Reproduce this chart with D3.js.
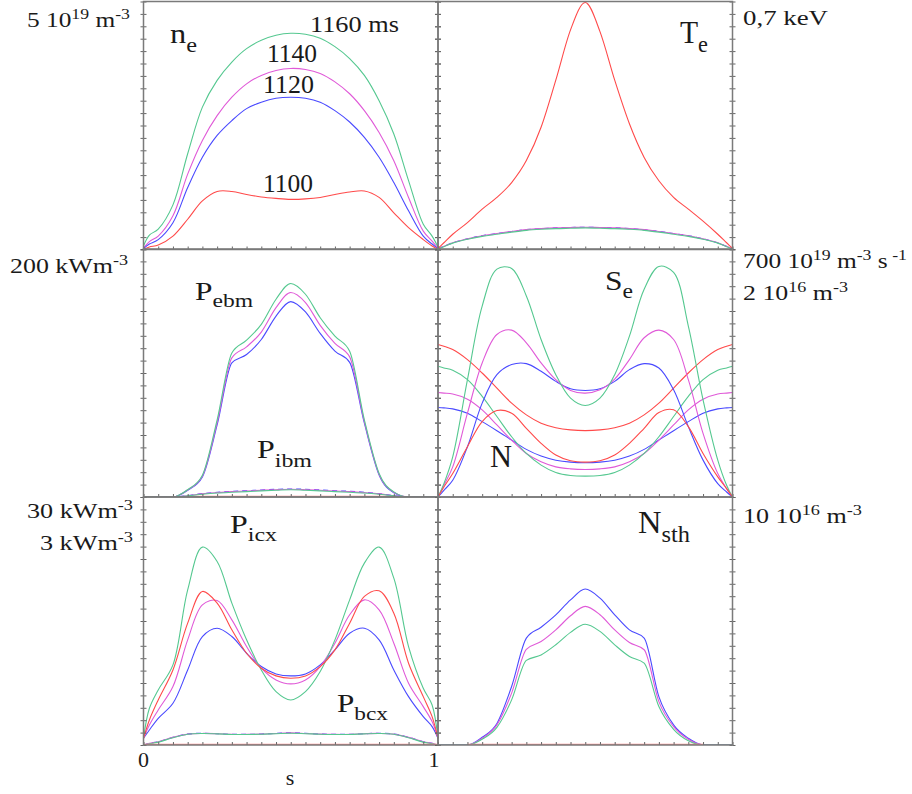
<!DOCTYPE html>
<html>
<head>
<meta charset="utf-8">
<script src="https://cdn.jsdelivr.net/npm/d3@7"></script>
<style>
body { margin: 0; background: #fff; }
text { font-family: "Liberation Serif", "DejaVu Serif", "Noto Serif", serif; fill: #1a1a1a; }
</style>
</head>
<body>
<div id="chart"></div>
<script>
// normalised radius s, same grid for every profile
const sGrid = [0, 0.02, 0.05, 0.1, 0.15, 0.2, 0.25, 0.3, 0.35, 0.4, 0.45, 0.5, 0.55, 0.6, 0.65, 0.7, 0.75, 0.8, 0.85, 0.9, 0.95, 0.98, 1];
const times = ["1100", "1120", "1140", "1160"];

// n_e, 10^19 m^-3
const neRed     = [0, 0.05, 0.09, 0.27, 0.61, 0.98, 1.17, 1.17, 1.11, 1.06, 1.03, 1.01, 1.02, 1.05, 1.11, 1.16, 1.18, 1.05, 0.74, 0.44, 0.2, 0.07, 0];
const neBlue    = [0.02, 0.11, 0.2, 0.54, 1.25, 1.86, 2.3, 2.6, 2.84, 2.97, 3.05, 3.07, 3.05, 2.97, 2.8, 2.57, 2.26, 1.86, 1.35, 0.78, 0.27, 0.11, 0.02];
const neMagenta = [0.03, 0.16, 0.27, 0.68, 1.52, 2.2, 2.7, 3.07, 3.34, 3.51, 3.61, 3.65, 3.63, 3.55, 3.38, 3.14, 2.8, 2.36, 1.79, 1.05, 0.37, 0.17, 0.03];
const neGreen   = [0.07, 0.29, 0.41, 0.9, 1.93, 2.87, 3.41, 3.78, 4.05, 4.22, 4.32, 4.36, 4.34, 4.26, 4.09, 3.85, 3.51, 3.0, 2.33, 1.39, 0.51, 0.27, 0.05];

// T_e, keV
const teRed     = [0.003, 0.019, 0.043, 0.076, 0.114, 0.147, 0.189, 0.251, 0.345, 0.478, 0.62, 0.697, 0.615, 0.478, 0.355, 0.26, 0.194, 0.147, 0.114, 0.08, 0.043, 0.019, 0.003];
const teBlue    = [0.003, 0.009, 0.019, 0.03, 0.039, 0.045, 0.051, 0.056, 0.059, 0.061, 0.062, 0.063, 0.062, 0.061, 0.059, 0.056, 0.051, 0.045, 0.039, 0.03, 0.019, 0.009, 0.003];
const teMagenta = [0.003, 0.009, 0.019, 0.03, 0.039, 0.045, 0.051, 0.056, 0.059, 0.061, 0.062, 0.063, 0.062, 0.061, 0.059, 0.056, 0.051, 0.045, 0.039, 0.03, 0.019, 0.009, 0.003];
const teGreen   = [0.002, 0.008, 0.018, 0.029, 0.037, 0.043, 0.049, 0.054, 0.057, 0.059, 0.06, 0.061, 0.06, 0.059, 0.057, 0.054, 0.049, 0.043, 0.037, 0.029, 0.018, 0.008, 0.002];

// P_ebm and P_ibm, kW m^-3
const pebmRed     = [null, null, null, null, 0, 0, 0, 0, 0, 0, 0, 0, 0, 0, 0, 0, 0, 0, 0, null, null, null, null];
const pebmBlue    = [0, 0, 0, 0, 5.4, 16.2, 58.1, 108.1, 114.9, 127.0, 145.9, 157.6, 149.2, 131.9, 117.6, 108.6, 59.5, 17.8, 3.5, 0, 0, 0, 0];
const pebmMagenta = [0, 0, 0, 0, 5.7, 17.0, 60.0, 112.2, 121.1, 133.0, 152.7, 164.9, 156.8, 138.4, 123.8, 113.0, 60.8, 18.4, 3.8, 0, 0, 0, 0];
const pebmGreen   = [0, 0, 0, 0, 5.9, 17.6, 62.2, 116.2, 126.5, 139.2, 159.5, 172.2, 163.5, 144.6, 129.7, 117.6, 62.2, 18.9, 4.1, 0, 0, 0, 0];
const pibmBlue    = [0, 0, 0, 0, 1.1, 2.7, 3.8, 4.6, 5.1, 5.7, 6.2, 6.5, 6.2, 5.7, 5.1, 4.6, 3.8, 2.7, 1.1, 0, 0, 0, 0];
const pibmMagenta = [0, 0, 0, 0, 1.0, 2.5, 3.5, 4.3, 4.8, 5.4, 5.9, 6.2, 5.9, 5.4, 4.8, 4.3, 3.5, 2.5, 1.0, 0, 0, 0, 0];
const pibmGreen   = [0, 0, 0, 0, 0.9, 2.2, 3.2, 3.8, 4.3, 4.9, 5.4, 5.9, 5.4, 4.9, 4.3, 3.8, 3.2, 2.2, 0.9, 0, 0, 0, 0];

// S_e, 10^19 m^-3 s^-1
const seRed     = [0, 28.4, 66.2, 141.9, 212.9, 244.1, 236.5, 193.9, 151.4, 118.3, 102.2, 98.4, 102.2, 118.3, 151.4, 193.9, 238.4, 246.0, 198.7, 122.9, 56.8, 23.7, 0];
const seBlue    = [0, 18.9, 47.3, 141.9, 264.9, 345.3, 373.7, 376.5, 354.8, 326.4, 305.6, 300.8, 305.6, 326.4, 359.5, 376.5, 364.2, 302.7, 198.7, 104.1, 37.8, 14.2, 0];
const seMagenta = [0, 33.1, 85.1, 236.5, 378.4, 458.8, 471.1, 435.2, 378.4, 331.1, 300.8, 293.3, 302.7, 333.0, 387.9, 449.4, 471.1, 444.6, 331.1, 179.7, 66.2, 23.7, 0];
const seGreen   = [0, 37.8, 113.5, 331.1, 539.0, 643.3, 645.2, 567.6, 444.6, 345.3, 279.1, 258.3, 279.1, 345.3, 454.1, 586.5, 650.8, 633.8, 482.5, 274.3, 104.1, 33.1, 0];

// N, 10^16 m^-3
const nRed     = [1.23, 1.216, 1.189, 1.108, 1.0, 0.878, 0.757, 0.662, 0.595, 0.559, 0.541, 0.535, 0.541, 0.559, 0.595, 0.662, 0.757, 0.878, 1.0, 1.108, 1.189, 1.216, 1.23];
const nBlue    = [0.722, 0.719, 0.711, 0.676, 0.608, 0.535, 0.459, 0.384, 0.33, 0.297, 0.281, 0.276, 0.281, 0.297, 0.33, 0.384, 0.459, 0.535, 0.608, 0.676, 0.711, 0.719, 0.722];
const nMagenta = [0.843, 0.838, 0.83, 0.789, 0.703, 0.581, 0.459, 0.351, 0.284, 0.243, 0.227, 0.222, 0.227, 0.243, 0.284, 0.351, 0.459, 0.581, 0.703, 0.789, 0.83, 0.838, 0.843];
const nGreen   = [1.054, 1.041, 1.022, 0.946, 0.811, 0.649, 0.486, 0.351, 0.257, 0.197, 0.173, 0.168, 0.173, 0.197, 0.257, 0.351, 0.486, 0.649, 0.811, 0.946, 1.022, 1.041, 1.054];

// P_icx (30 kW m^-3 scale) and P_bcx (3 kW m^-3 scale)
const picxRed     = [0.81, 3.03, 5.45, 9.08, 14.74, 18.57, 17.16, 13.93, 11.1, 9.29, 8.36, 8.07, 8.36, 9.49, 11.51, 14.74, 17.97, 18.65, 15.95, 9.89, 5.85, 3.43, 0.81];
const picxBlue    = [0.81, 1.82, 3.23, 5.05, 9.08, 13.12, 14.13, 13.12, 11.1, 9.49, 8.6, 8.36, 8.6, 9.69, 11.51, 13.52, 14.13, 12.72, 9.08, 5.85, 3.43, 2.22, 0.81];
const picxMagenta = [0.81, 2.42, 4.24, 7.07, 12.72, 16.96, 17.48, 15.14, 11.91, 9.29, 7.87, 7.39, 7.87, 9.49, 12.31, 15.75, 17.56, 16.35, 12.31, 7.47, 4.64, 2.83, 0.81];
const picxGreen   = [0.81, 4.44, 6.66, 9.69, 18.77, 23.94, 22.2, 17.16, 12.72, 9.08, 6.46, 5.45, 6.46, 8.88, 12.72, 17.56, 22.0, 23.94, 20.18, 11.91, 6.86, 4.84, 0.81];
const pbcxRed     = [0, 0, 0, 0, 0, 0, 0, 0, 0, 0, 0, 0, 0, 0, 0, 0, 0, 0, 0, 0, 0, 0, 0];
const pbcxBlue    = [0, 0.02, 0.04, 0.093, 0.133, 0.141, 0.137, 0.129, 0.129, 0.133, 0.141, 0.149, 0.141, 0.133, 0.129, 0.129, 0.137, 0.141, 0.133, 0.093, 0.04, 0.02, 0];
const pbcxMagenta = [0, 0.02, 0.04, 0.092, 0.132, 0.14, 0.136, 0.128, 0.128, 0.132, 0.14, 0.147, 0.14, 0.132, 0.128, 0.128, 0.136, 0.14, 0.132, 0.092, 0.04, 0.02, 0];
const pbcxGreen   = [0, 0.015, 0.035, 0.088, 0.13, 0.139, 0.135, 0.127, 0.127, 0.13, 0.137, 0.143, 0.137, 0.13, 0.127, 0.127, 0.135, 0.139, 0.13, 0.088, 0.035, 0.015, 0];

// N_sth, 10^16 m^-3
const nsthRed     = [null, null, null, 0, 0, 0, 0, 0, 0, 0, 0, 0, 0, 0, 0, 0, 0, 0, 0, 0, null, null, null];
const nsthBlue    = [0, 0, 0, 0, 0.31, 0.87, 2.36, 4.31, 4.75, 5.25, 5.85, 6.29, 5.92, 5.25, 4.64, 4.31, 1.95, 0.81, 0.27, 0.01, 0, 0, 0];
const nsthMagenta = [0, 0, 0, 0, 0.27, 0.81, 2.09, 3.86, 4.17, 4.64, 5.21, 5.59, 5.25, 4.64, 4.13, 3.84, 1.75, 0.74, 0.23, 0.01, 0, 0, 0];
const nsthGreen   = [0, 0, 0, 0, 0.23, 0.71, 1.82, 3.41, 3.63, 4.04, 4.54, 4.87, 4.58, 4.04, 3.57, 3.3, 1.55, 0.63, 0.17, 0, 0, 0, 0];

const RED = "#ff4a4a", BLUE = "#4a4aff", MAG = "#e05ad8", GREEN = "#55c890";
const FONT = "Liberation Serif, DejaVu Serif, serif";

const colX = [143.5, 438];
const rowY = [1.5, 249, 497];
const pw = 294.5, ph = 248;

const svg = d3.select("#chart").append("svg")
    .attr("width", 912)
    .attr("height", 794);

const x = d3.scaleLinear().domain([0, 1]).range([0, pw]);

function lines(red, blue, magenta, green, thin) {
    // draw order: blue, magenta, green, red
    return [
        {v: blue, c: BLUE, dash: thin ? "5,4" : null},
        {v: magenta, c: MAG},
        {v: green, c: GREEN},
        {v: red, c: RED}
    ].filter(d => d.v);
}

const smooth = d3.curveCatmullRom.alpha(0.5);
const kinked = d3.curveMonotoneX;

const panels = [
    {col: 0, row: 0, curve: smooth, layers: [{max: 5, lines: lines(neRed, neBlue, neMagenta, neGreen)}]},
    {col: 1, row: 0, curve: kinked, layers: [{max: 0.7, lines: lines(teRed, teBlue, teMagenta, teGreen, true)}]},
    {col: 0, row: 1, curve: kinked, layers: [
        {max: 200, lines: lines(pebmRed, pebmBlue, pebmMagenta, pebmGreen)},
        {max: 200, lines: lines(null, pibmBlue, pibmMagenta, pibmGreen, true)}]},
    {col: 1, row: 1, curve: smooth, layers: [
        {max: 2, lines: lines(nRed, nBlue, nMagenta, nGreen)},
        {max: 700, lines: lines(seRed, seBlue, seMagenta, seGreen)}]},
    {col: 0, row: 2, curve: smooth, layers: [
        {max: 30, lines: lines(null, picxBlue, picxMagenta, picxGreen)},
        {max: 3, lines: lines(null, pbcxBlue, pbcxMagenta, pbcxGreen, true)},
        {max: 30, lines: lines(picxRed, null, null, null)},
        {max: 3, lines: lines(pbcxRed, null, null, null)}]},
    {col: 1, row: 2, curve: kinked, layers: [{max: 10, lines: lines(nsthRed, nsthBlue, nsthMagenta, nsthGreen)}]}
];

const tickVals = d3.range(21).map(i => i / 20);

panels.forEach((p, pi) => {
    const g = svg.append("g")
        .attr("transform", "translate(" + colX[p.col] + "," + rowY[p.row] + ")");

    g.append("clipPath").attr("id", "clip" + pi)
        .append("rect").attr("x", -1).attr("y", -1).attr("width", pw + 2).attr("height", ph + 1);

    const plot = g.append("g").attr("clip-path", "url(#clip" + pi + ")");

    p.layers.forEach(layer => {
        const y = d3.scaleLinear().domain([0, layer.max]).range([ph, 0]);
        const line = d3.line()
            .defined(d => d[1] != null)
            .x(d => x(d[0]))
            .y(d => y(d[1]))
            .curve(p.curve);
        layer.lines.forEach(l => {
            const isZero = l.v.every(v => v == null || v === 0);
            plot.append("path")
                .datum(sGrid.map((s, i) => [s, l.v[i]]))
                .attr("d", line)
                .attr("fill", "none")
                .attr("stroke", isZero ? "#ff8c8c" : l.c)
                .attr("stroke-width", isZero ? 2.5 : 1.1)
                .attr("stroke-dasharray", l.dash);
        });
    });

    // ticks crossing the vertical borders, pointing up on the bottom border
    const yt = d3.scaleLinear().domain([0, 1]).range([ph, 0]);
    [0, pw].forEach(xx => {
        g.append("g").attr("transform", "translate(" + xx + ",0)")
            .call(d3.axisLeft(yt).tickValues(tickVals).tickSize(3).tickFormat(""));
        g.append("g").attr("transform", "translate(" + xx + ",0)")
            .call(d3.axisRight(yt).tickValues(tickVals).tickSize(3).tickFormat(""));
    });
    g.append("g").attr("transform", "translate(0," + ph + ")")
        .call(d3.axisTop(x).tickValues(tickVals).tickSize(3).tickFormat(""));
    g.selectAll(".domain").remove();
    g.selectAll(".tick line").attr("stroke", "#666").attr("stroke-width", 1);

    g.append("rect")
        .attr("width", pw).attr("height", ph)
        .attr("fill", "none")
        .attr("stroke", "#7a7a7a")
        .attr("stroke-width", 1.5);
});

// text with sub/superscripts; parts: [text, "sub"|"sup"|null]
function label(px, py, size, parts, opts) {
    opts = opts || {};
    const t = svg.append("text")
        .attr("x", px).attr("y", py)
        .attr("font-family", FONT)
        .attr("font-size", size)
        .attr("text-anchor", opts.anchor || "start");
    let shift = 0;
    parts.forEach(([txt, kind]) => {
        const target = kind === "sub" ? size * (opts.subDy || 0.32) : kind === "sup" ? -size * 0.36 : 0;
        t.append("tspan")
            .attr("dy", target - shift)
            .attr("font-size", kind ? size * (opts.small || 0.7) : size)
            .text(txt);
        shift = target;
    });
    if (opts.len) t.attr("textLength", opts.len).attr("lengthAdjust", "spacingAndGlyphs");
    return t;
}

// left scale labels
label(130, 27, 21, [["5 10"], ["19", "sup"], [" m"], ["-3", "sup"]], {anchor: "end", len: 103});
label(128, 273, 22, [["200 kWm"], ["-3", "sup"]], {anchor: "end", len: 118});
label(133, 518, 22, [["30 kWm"], ["-3", "sup"]], {anchor: "end", len: 106});
label(133, 550, 22, [["3 kWm"], ["-3", "sup"]], {anchor: "end", len: 93});

// right scale labels
label(743, 25, 22, [["0,7 keV"]], {len: 85});
label(743, 268, 22, [["700 10"], ["19", "sup"], [" m"], ["-3", "sup"], [" s"], [" -1", "sup"]], {len: 164});
label(743, 300, 22, [["2 10"], ["16", "sup"], [" m"], ["-3", "sup"]], {len: 105});
label(743, 523, 22, [["10 10"], ["16", "sup"], [" m"], ["-3", "sup"]], {len: 119});

// in-panel labels
label(170, 43, 27, [["n"], ["e", "sub"]], {len: 27, small: 0.75});
label(310, 32, 24, [["1160 ms"]], {len: 89});
label(267, 62, 25, [[times[2]]], {len: 50});
label(263, 93, 25, [[times[1]]], {len: 51});
label(263, 192, 25, [[times[0]]], {len: 50});
label(680, 43, 32, [["T"], ["e", "sub"]], {len: 28, small: 0.75, subDy: 0.28});
label(195, 300, 26, [["P"], ["ebm", "sub"]], {len: 58, small: 0.75, subDy: 0.27});
label(257, 458, 26, [["P"], ["ibm", "sub"]], {len: 55, small: 0.75, subDy: 0.33});
label(605, 290, 28, [["S"], ["e", "sub"]], {len: 28, small: 0.75, subDy: 0.3});
label(490, 467, 31, [["N"]], {len: 22});
label(230, 533, 26, [["P"], ["icx", "sub"]], {len: 47, small: 0.75, subDy: 0.32});
label(337, 712, 26, [["P"], ["bcx", "sub"]], {len: 51, small: 0.75, subDy: 0.32});
label(638, 533, 32, [["N"], ["sth", "sub"]], {len: 52, small: 0.75, subDy: 0.27});

// s axis
label(143.5, 767, 22, [["0"]], {anchor: "middle"});
label(434, 767, 22, [["1"]], {anchor: "middle"});
label(290, 785, 22, [["s"]], {anchor: "middle"});
</script>
</body>
</html>
